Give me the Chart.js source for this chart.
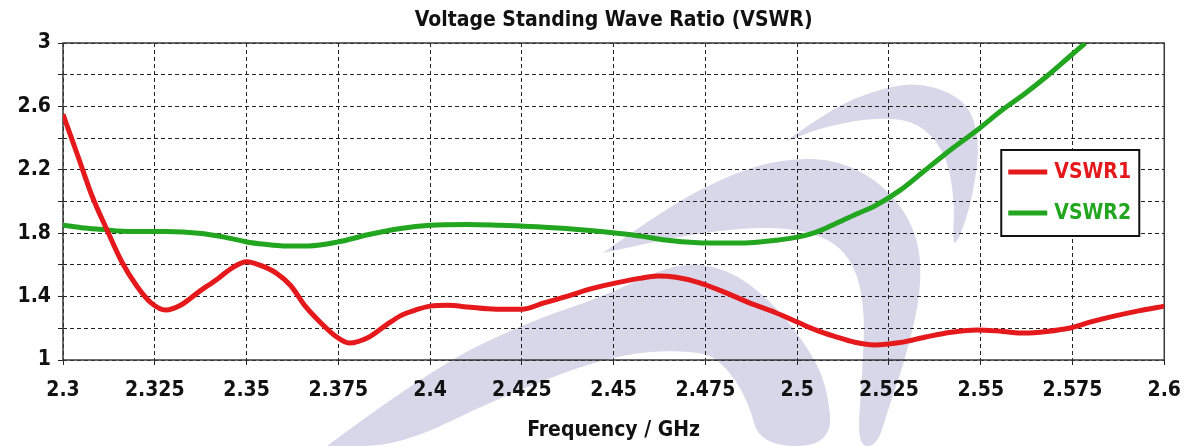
<!DOCTYPE html>
<html>
<head>
<meta charset="utf-8">
<script src="https://cdn.jsdelivr.net/npm/chart.js@4.4.1/dist/chart.umd.min.js"></script>
<style>
  html, body { margin: 0; padding: 0; background: #fff; }
  #wrap { width: 1194px; height: 446px; }
</style>
</head>
<body>
<div id="wrap"><canvas id="vswrChart" width="1194" height="446"></canvas></div>
<script>
"use strict"

//frekvenser och värden
const freq1 = [2.300, 2.304, 2.308, 2.312, 2.316, 2.320, 2.324, 2.328, 2.332, 2.337, 2.342, 2.346, 2.350, 2.354, 2.358, 2.362, 2.366, 2.370, 2.374, 2.378, 2.383, 2.388, 2.392, 2.396, 2.400, 2.405, 2.410, 2.418, 2.425, 2.431, 2.437, 2.444, 2.451, 2.457, 2.462, 2.467, 2.473, 2.480, 2.487, 2.494, 2.500, 2.505, 2.510, 2.516, 2.521, 2.528, 2.535, 2.542, 2.549, 2.556, 2.562, 2.568, 2.574, 2.580, 2.586, 2.593, 2.600];
const vswr1 = [2.55, 2.29, 2.03, 1.82, 1.62, 1.47, 1.36, 1.315, 1.345, 1.43, 1.51, 1.58, 1.62, 1.595, 1.55, 1.47, 1.34, 1.24, 1.155, 1.107, 1.14, 1.22, 1.28, 1.315, 1.34, 1.345, 1.335, 1.32, 1.32, 1.36, 1.40, 1.45, 1.488, 1.515, 1.53, 1.522, 1.49, 1.43, 1.36, 1.30, 1.24, 1.19, 1.15, 1.11, 1.095, 1.11, 1.145, 1.175, 1.19, 1.18, 1.17, 1.18, 1.20, 1.24, 1.275, 1.31, 1.34];

const freq2 = [2.300, 2.305, 2.310, 2.319, 2.328, 2.337, 2.344, 2.350, 2.355, 2.360, 2.367, 2.375, 2.383, 2.392, 2.400, 2.410, 2.419, 2.425, 2.437, 2.451, 2.458, 2.464, 2.473, 2.480, 2.487, 2.494, 2.500, 2.505, 2.510, 2.516, 2.521, 2.528, 2.535, 2.542, 2.549, 2.556, 2.562, 2.568, 2.574, 2.5785];
const vswr2 = [1.85, 1.835, 1.825, 1.81, 1.81, 1.80, 1.775, 1.745, 1.73, 1.72, 1.72, 1.745, 1.79, 1.83, 1.85, 1.855, 1.85, 1.845, 1.83, 1.80, 1.78, 1.757, 1.74, 1.738, 1.74, 1.755, 1.775, 1.805, 1.855, 1.92, 1.97, 2.07, 2.20, 2.33, 2.45, 2.58, 2.68, 2.79, 2.91, 3.0];

const seriesNames = ["VSWR1", "VSWR2"];
const xTickLabels = ["2.3", "2.325", "2.35", "2.375", "2.4", "2.425", "2.45", "2.475", "2.5", "2.525", "2.55", "2.575", "2.6"];
const yTickLabels = ["1", "1.4", "1.8", "2.2", "2.6", "3"];

const chartEl = document.getElementById("vswrChart");

const RED = "#e5181c";
const GREEN = "#22a51f";
const COND = "'DejaVu Sans Condensed', 'DejaVu Sans', sans-serif";

//gör om två arrayer till punkter
function toPoints(xs, ys) {
    return xs.map((x, i) => ({ x: x, y: ys[i] }));
}

//ritar en mjuk fylld form genom punkterna
function smoothShape(ctx, pts) {
    ctx.beginPath();
    ctx.moveTo(pts[0][0], pts[0][1]);
    for (let i = 1; i < pts.length - 1; i++) {
        const mx = (pts[i][0] + pts[i + 1][0]) / 2;
        const my = (pts[i][1] + pts[i + 1][1]) / 2;
        ctx.quadraticCurveTo(pts[i][0], pts[i][1], mx, my);
    }
    const last = pts[pts.length - 1];
    ctx.lineTo(last[0], last[1]);
    ctx.closePath();
    ctx.fill();
}

/**
 * Vit bakgrund och vattenstämpeln (tre bågar) bakom diagrammet.
 */
const watermarkPlugin = {
    id: "watermark",
    beforeDraw(chart) {
        const ctx = chart.ctx;
        ctx.save();
        ctx.fillStyle = "#ffffff";
        ctx.fillRect(0, 0, chart.width, chart.height);
        ctx.fillStyle = "#d7d7e9";
        //övre bågen
        smoothShape(ctx, [[785, 142], [833, 107], [883, 88], [917, 83], [950, 92], [972, 110], [980, 150], [970, 210], [952, 255],
            [955, 200], [945, 150], [915, 120], [870, 118], [820, 128], [785, 142]]);
        //mittersta bågen
        smoothShape(ctx, [[603, 253], [667, 207], [733, 173], [787, 158], [840, 160], [887, 187], [918, 233], [922, 290], [905, 360], [888, 410], [877, 446],
            [857, 446], [862, 380], [865, 310], [855, 265], [830, 238], [780, 226], [700, 232], [603, 253]]);
        //nedre stora bågen
        smoothShape(ctx, [[327, 446], [433, 367], [533, 320], [600, 298], [677, 262], [727, 268], [770, 300], [803, 340], [827, 383], [833, 446],
            [760, 446], [748, 400], [725, 365], [700, 350], [617, 353], [500, 397], [400, 446], [327, 446]]);
        ctx.restore();
    },
    beforeDatasetsDraw(chart) {
        //ram runt ritytan
        const a = chart.chartArea;
        const ctx = chart.ctx;
        ctx.save();
        ctx.strokeStyle = "#3a3a3a";
        ctx.lineWidth = 1.5;
        ctx.strokeRect(a.left, a.top, a.right - a.left, a.bottom - a.top);
        ctx.restore();
    }
};

/**
 * Egen förklaring i en ruta inne i diagrammet.
 */
const boxLegendPlugin = {
    id: "boxLegend",
    afterDatasetsDraw(chart) {
        const a = chart.chartArea;
        const ctx = chart.ctx;
        const left = a.right - 163;
        const top = a.top + 107;
        const w = 138;
        const h = 86;
        ctx.save();
        ctx.fillStyle = "#ffffff";
        ctx.fillRect(left, top, w, h);
        ctx.strokeStyle = "#111111";
        ctx.lineWidth = 2;
        ctx.strokeRect(left, top, w, h);
        chart.data.datasets.forEach((ds, i) => {
            const y = top + 22 + i * 41;
            ctx.strokeStyle = ds.borderColor;
            ctx.lineWidth = 5;
            ctx.beginPath();
            ctx.moveTo(left + 7, y);
            ctx.lineTo(left + 46, y);
            ctx.stroke();
            ctx.fillStyle = ds.borderColor;
            ctx.font = "bold 21px " + COND;
            ctx.textBaseline = "middle";
            ctx.textAlign = "left";
            ctx.fillText(ds.label, left + 53, y + 1);
        });
        ctx.restore();
    }
};

new Chart(chartEl, {
    type: "line",
    data: {
        datasets: [{
            label: seriesNames[0],
            data: toPoints(freq1, vswr1),
            borderColor: RED,
            borderWidth: 5,
            pointRadius: 0,
            cubicInterpolationMode: "monotone",
            fill: false
        }, {
            label: seriesNames[1],
            data: toPoints(freq2, vswr2),
            borderColor: GREEN,
            borderWidth: 5,
            pointRadius: 0,
            cubicInterpolationMode: "monotone",
            fill: false
        }]
    },
    options: {
        responsive: false,
        animation: false,
        layout: {
            padding: { left: 0, right: 28, top: 0, bottom: 0 }
        },
        plugins: {
            legend: { display: false },
            tooltip: { enabled: false },
            title: {
                display: true,
                text: "Voltage Standing Wave Ratio (VSWR)",
                fullSize: false,
                color: "#111111",
                font: { family: COND, size: 21, weight: "bold", lineHeight: 1.2 },
                padding: { top: 8, bottom: 9.8 }
            }
        },
        scales: {
            x: {
                type: "linear",
                min: 2.3,
                max: 2.6,
                afterFit: (scale) => { scale.height = 86; },
                ticks: {
                    stepSize: 0.025,
                    autoSkip: false,
                    maxRotation: 0,
                    padding: 13,
                    color: "#111111",
                    font: { family: COND, size: 21, weight: "bold" },
                    callback: function (value) {
                        const v = Math.round(value * 1000) / 1000;
                        const found = xTickLabels.find((l) => parseFloat(l) === v);
                        return found === undefined ? "" : found;
                    }
                },
                grid: {
                    color: "#222222",
                    lineWidth: 1,
                    tickLength: 5,
                    tickColor: "#222222",
                    tickBorderDash: []
                },
                border: { display: false, dash: [4, 3] },
                title: {
                    display: true,
                    text: "Frequency / GHz",
                    color: "#111111",
                    font: { family: COND, size: 21, weight: "bold", lineHeight: 1.2 },
                    padding: { top: 0, bottom: 3 }
                }
            },
            y: {
                min: 1,
                max: 3,
                afterFit: (scale) => { scale.width = 63; },
                ticks: {
                    stepSize: 0.2,
                    padding: 7,
                    color: "#111111",
                    font: { family: COND, size: 21, weight: "bold" },
                    callback: function (value) {
                        const v = Math.round(value * 10) / 10;
                        const found = yTickLabels.find((l) => parseFloat(l) === v);
                        return found === undefined ? "" : found;
                    }
                },
                grid: {
                    color: "#222222",
                    lineWidth: 1,
                    tickLength: 5,
                    tickColor: "#222222",
                    tickBorderDash: []
                },
                border: { display: false, dash: [4, 3] }
            }
        }
    },
    plugins: [watermarkPlugin, boxLegendPlugin]
});
</script>
</body>
</html>
